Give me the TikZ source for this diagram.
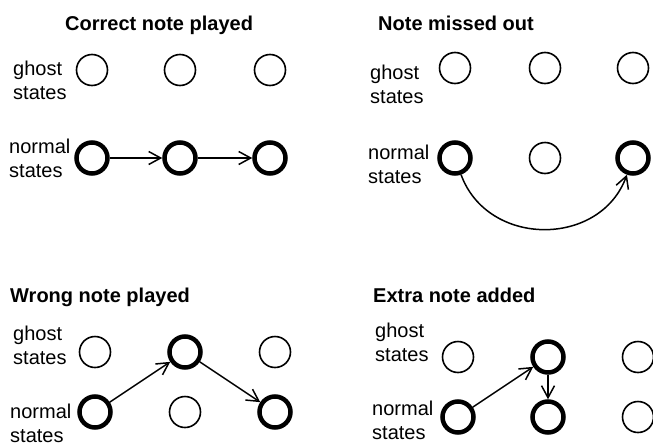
\documentclass[tikz,border=0pt]{standalone}
\usepackage{fontspec}
\setmainfont{Liberation Sans}
\usetikzlibrary{arrows.meta}

\begin{document}
\begin{tikzpicture}[x=1pt,y=1pt,
      % styles for clarity
      idle/.style    ={draw, circle, inner sep=0pt, minimum size=31pt, line width=1.6pt},
      used/.style    ={idle, line width=4.5pt},
      title/.style   ={anchor=base west, inner sep=0pt, font=\fontsize{20}{24}\selectfont\bfseries},
      rowname/.style ={anchor=west, align=left, inner sep=0pt, font=\fontsize{20}{24}\selectfont},
      link/.style    ={->, line width=1.5pt},
      >={Straight Barb[length=12pt,width=13pt]}
    ]
    \useasboundingbox (0,0) rectangle (653,-442);

    % correct note played
    \node[title] (a-t) at (65,-30) {Correct note played};
    \node[rowname] (a-gl) at (13,-80) {ghost\\states};
    \node[rowname] (a-nl) at (9,-158) {normal\\states};
    \foreach \x [count=\i] in {92,180,270}{
      \node[idle] (a-g\i) at (\x,-70) {};
      \node[used] (a-n\i) at (\x,-158) {};
    }
    \draw[link] (a-n1) -- (a-n2);
    \draw[link] (a-n2) -- (a-n3);

    % note missed out
    \node[title] (b-t) at (378,-30) {Note missed out};
    \node[rowname] (b-gl) at (370,-84) {ghost\\states};
    \node[rowname] (b-nl) at (368,-164) {normal\\states};
    \foreach \x/\s [count=\i] in {455/used,545/idle,633/used}{
      \node[idle] (b-g\i) at (\x,-68) {};
      \node[\s]   (b-n\i) at (\x,-158) {};
    }
    \draw[link] (b-n1) to[out=-70, in=-110, looseness=1.2] (b-n3);

    % wrong note played
    \node[title] (c-t) at (10,-302) {Wrong note played};
    \node[rowname] (c-gl) at (13,-345) {ghost\\states};
    \node[rowname] (c-nl) at (10,-423) {normal\\states};
    \foreach \x/\s/\r [count=\i] in {95/idle/used,185/used/idle,275/idle/used}{
      \node[\s] (c-g\i) at (\x,-352) {};
      \node[\r] (c-n\i) at (\x,-412) {};
    }
    \draw[link] (c-n1) -- (c-g2);
    \draw[link] (c-g2) -- (c-n3);

    % extra note added
    \node[title] (d-t) at (373,-302) {Extra note added};
    \node[rowname] (d-gl) at (375,-342) {ghost\\states};
    \node[rowname] (d-nl) at (372,-420) {normal\\states};
    \foreach \x/\s/\r [count=\i] in {458/idle/used,548/used/used,638/idle/idle}{
      \node[\s] (d-g\i) at (\x,-357) {};
      \node[\r] (d-n\i) at (\x,-417) {};
    }
    \draw[link] (d-n1) -- (d-g2);
    \draw[link] (d-g2) -- (d-n2);
  \end{tikzpicture}
\end{document}
